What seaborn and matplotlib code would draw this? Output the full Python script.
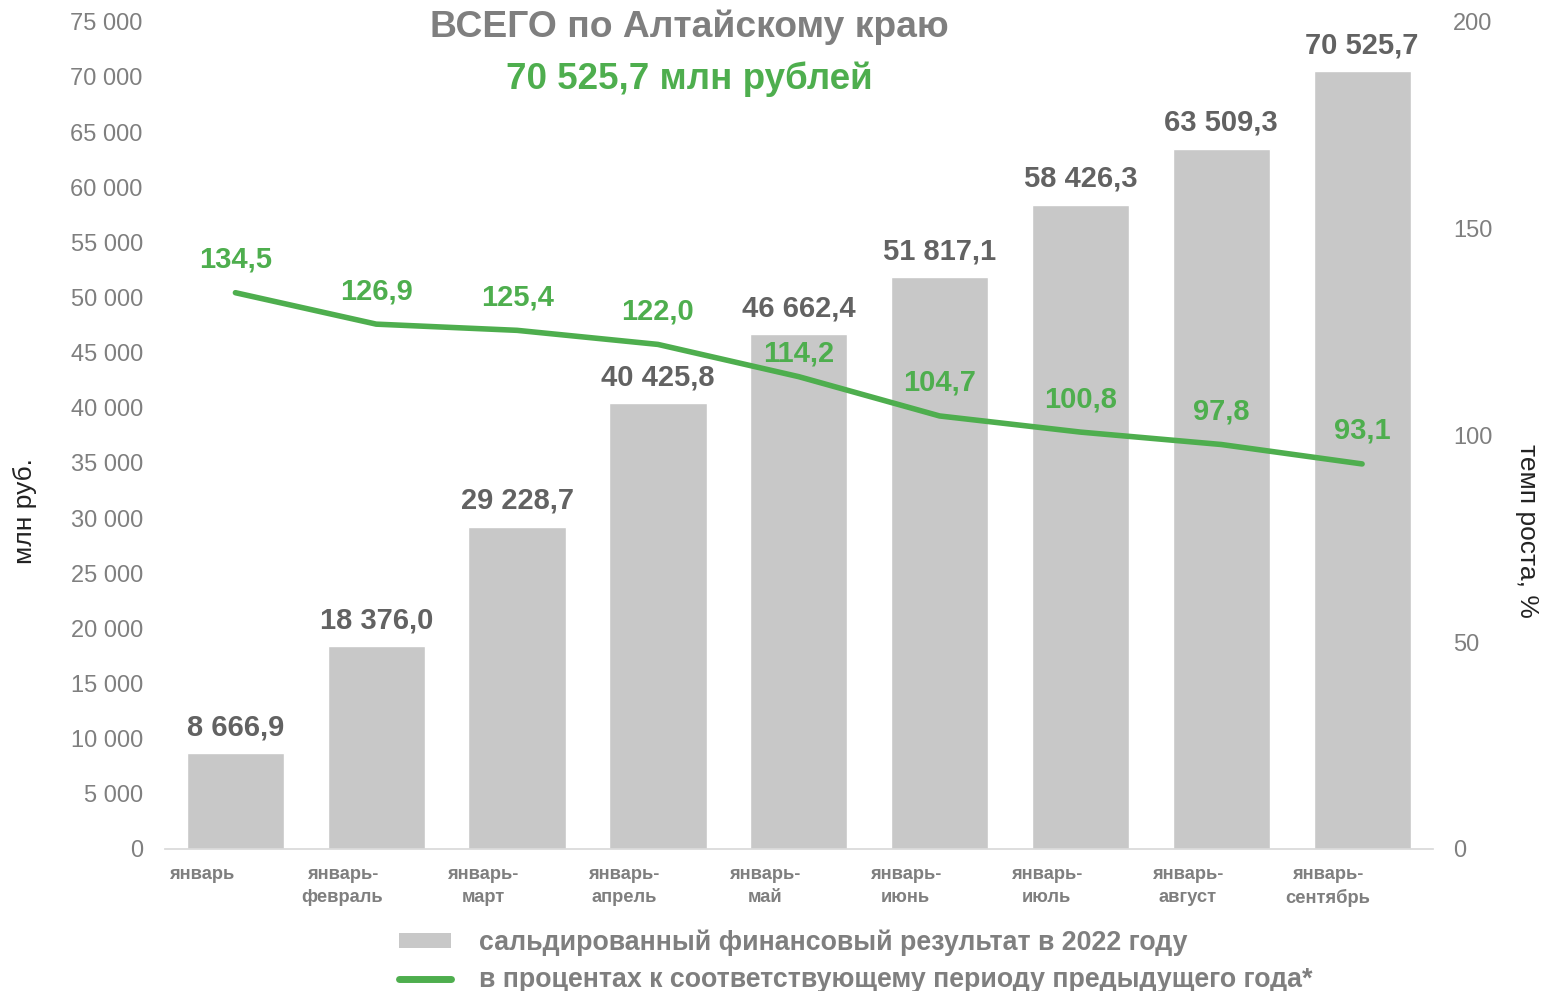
import matplotlib
matplotlib.use("Agg")
import matplotlib.pyplot as plt
import matplotlib.transforms as mtransforms
import seaborn as sns
import pandas as pd
from matplotlib.patches import Patch
from matplotlib.lines import Line2D

categories = ["январь", "январь-\nфевраль", "январь-\nмарт", "январь-\nапрель", "январь-\nмай",
              "январь-\nиюнь", "январь-\nиюль", "январь-\nавгуст", "январь-\nсентябрь"]
bar_values = [8666.9, 18376.0, 29228.7, 40425.8, 46662.4, 51817.1, 58426.3, 63509.3, 70525.7]
growth_values = [134.5, 126.9, 125.4, 122.0, 114.2, 104.7, 100.8, 97.8, 93.1]
left_ticks = list(range(0, 75001, 5000))
right_ticks = [0, 50, 100, 150, 200]

title_text = "ВСЕГО по Алтайскому краю"
subtitle_text = "70 525,7 млн рублей"
bar_legend = "сальдированный финансовый результат в 2022 году"
line_legend = "в процентах к соответствующему периоду предыдущего года*"

# label offsets (pixels above the line points) - layout only
growth_label_offsets = [33, 33, 33, 33, 23, 33, 33, 33, 33]

sns.set_theme(style="white")
plt.rcParams['font.family'] = ['Liberation Sans', 'DejaVu Sans']

GRAY_BAR = "#C8C8C8"
GREEN = "#4EAE4E"
TXT = "#7F7F7F"
LBL = "#626262"

def fmt(v, dec=1):
    s = f"{v:,.{dec}f}".replace(",", " ").replace(".", ",")
    return s

df = pd.DataFrame({"cat": categories, "val": bar_values, "gr": growth_values})

fig = plt.figure(figsize=(15.42, 9.91), dpi=100)
ax = fig.add_axes([0.107, 0.1433, 0.822, 0.8347])
sns.barplot(data=df, x="cat", y="val", color=GRAY_BAR, width=0.69, ax=ax, saturation=1)
ax.set_ylim(0, 75000)
ax.set_xlim(-0.5, len(categories) - 0.5)
ax.set_yticks(left_ticks)
ax.set_yticklabels([fmt(t, 0) for t in left_ticks], fontsize=17, color=TXT)
ax.tick_params(axis='y', length=0, pad=16)
ax.tick_params(axis='x', length=0, pad=12)
ax.set_xticks(range(len(categories)))
ax.set_xticklabels(categories, fontsize=13.2, color=TXT, fontweight='bold', linespacing=1.45)
shift = mtransforms.ScaledTranslation(-34 / 100, 0, fig.dpi_scale_trans)
for lab in ax.get_xticklabels():
    lab.set_transform(lab.get_transform() + shift)
ax.set_xlabel("")
ax.set_ylabel("")
for s in ["top", "right", "left"]:
    ax.spines[s].set_visible(False)
ax.spines["bottom"].set_color("#D9D9D9")
ax.grid(False)

for i, v in enumerate(bar_values):
    ax.annotate(fmt(v), (i, v), xytext=(0, 26), textcoords="offset pixels",
                ha="center", va="center", fontsize=21, fontweight="bold", color=LBL)

ax2 = ax.twinx()
sns.lineplot(x=list(range(len(categories))), y=growth_values, ax=ax2, color=GREEN, linewidth=4, sort=False)
ax2.set_ylim(0, 200)
ax2.set_yticks(right_ticks)
ax2.set_yticklabels([str(t) for t in right_ticks], fontsize=17, color=TXT)
ax2.tick_params(axis='y', length=0, pad=15)
ax2.set_ylabel("")
for s in ["top", "right", "left", "bottom"]:
    ax2.spines[s].set_visible(False)
ax2.grid(False)

for i, v in enumerate(growth_values):
    ax2.annotate(fmt(v), (i, v), xytext=(0, growth_label_offsets[i]), textcoords="offset pixels",
                 ha="center", va="center", fontsize=21, fontweight="bold", color=GREEN)

fig.text(25 / 1542, 1 - 511 / 991, "млн руб.", rotation=90, ha="center", va="center", fontsize=19, color="#222222")
fig.text(1527 / 1542, 1 - 531 / 991, "темп роста, %", rotation=270, ha="center", va="center", fontsize=19, color="#222222")

fig.text(0.447, 1 - 27 / 991, title_text, ha="center", va="center", fontsize=26.8, fontweight="bold", color=TXT)
fig.text(0.447, 1 - 79 / 991, subtitle_text, ha="center", va="center", fontsize=26.5, fontweight="bold", color=GREEN)

handles = [Patch(facecolor=GRAY_BAR, edgecolor="none"), Line2D([0], [0], color=GREEN, linewidth=5)]
leg = fig.legend(handles, [bar_legend, line_legend], loc="upper left", bbox_to_anchor=(0.2588, 0.062),
                 frameon=False, fontsize=19.3, handlelength=1.94, handleheight=0.5, handletextpad=1.04,
                 labelspacing=0.42, borderaxespad=0, borderpad=0)
for t in leg.get_texts():
    t.set_color(TXT)
    t.set_fontweight("bold")

fig.savefig("out.png", dpi=100)
